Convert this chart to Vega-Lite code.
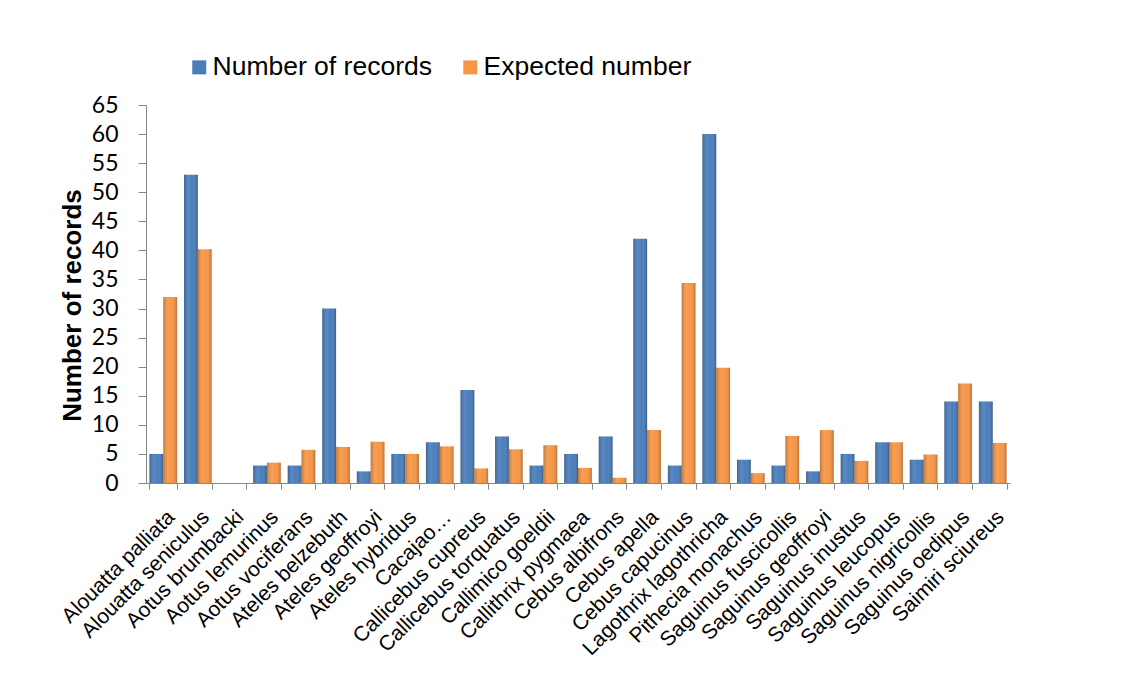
{
  "$schema": "https://vega.github.io/schema/vega-lite/v6.json",
  "width": 864,
  "height": 378,
  "autosize": {"type": "none"},
  "padding": {"left": 146, "top": 105, "right": 115, "bottom": 195},
  "background": "white",
  "config": {"view": {"stroke": null}, "font": "Liberation Sans"},
  "data": {
    "values": [
      {"species": "Alouatta palliata", "series": "Number of records", "value": 5},
      {"species": "Alouatta palliata", "series": "Expected number", "value": 32},
      {"species": "Alouatta seniculus", "series": "Number of records", "value": 53},
      {"species": "Alouatta seniculus", "series": "Expected number", "value": 40.2},
      {"species": "Aotus brumbacki", "series": "Number of records", "value": 0},
      {"species": "Aotus brumbacki", "series": "Expected number", "value": 0},
      {"species": "Aotus lemurinus", "series": "Number of records", "value": 3},
      {"species": "Aotus lemurinus", "series": "Expected number", "value": 3.5},
      {"species": "Aotus vociferans", "series": "Number of records", "value": 3},
      {"species": "Aotus vociferans", "series": "Expected number", "value": 5.7},
      {"species": "Ateles belzebuth", "series": "Number of records", "value": 30},
      {"species": "Ateles belzebuth", "series": "Expected number", "value": 6.2},
      {"species": "Ateles geoffroyi", "series": "Number of records", "value": 2},
      {"species": "Ateles geoffroyi", "series": "Expected number", "value": 7.1},
      {"species": "Ateles hybridus", "series": "Number of records", "value": 5},
      {"species": "Ateles hybridus", "series": "Expected number", "value": 5},
      {"species": "Cacajao…", "series": "Number of records", "value": 7},
      {"species": "Cacajao…", "series": "Expected number", "value": 6.3},
      {"species": "Callicebus cupreus", "series": "Number of records", "value": 16},
      {"species": "Callicebus cupreus", "series": "Expected number", "value": 2.5},
      {"species": "Callicebus torquatus", "series": "Number of records", "value": 8},
      {"species": "Callicebus torquatus", "series": "Expected number", "value": 5.8},
      {"species": "Callimico goeldii", "series": "Number of records", "value": 3},
      {"species": "Callimico goeldii", "series": "Expected number", "value": 6.5},
      {"species": "Callithrix pygmaea", "series": "Number of records", "value": 5},
      {"species": "Callithrix pygmaea", "series": "Expected number", "value": 2.6},
      {"species": "Cebus albifrons", "series": "Number of records", "value": 8},
      {"species": "Cebus albifrons", "series": "Expected number", "value": 0.9},
      {"species": "Cebus apella", "series": "Number of records", "value": 42},
      {"species": "Cebus apella", "series": "Expected number", "value": 9.1},
      {"species": "Cebus capucinus", "series": "Number of records", "value": 3},
      {"species": "Cebus capucinus", "series": "Expected number", "value": 34.4},
      {"species": "Lagothrix lagothricha", "series": "Number of records", "value": 60},
      {"species": "Lagothrix lagothricha", "series": "Expected number", "value": 19.8},
      {"species": "Pithecia monachus", "series": "Number of records", "value": 4},
      {"species": "Pithecia monachus", "series": "Expected number", "value": 1.7},
      {"species": "Saguinus fuscicollis", "series": "Number of records", "value": 3},
      {"species": "Saguinus fuscicollis", "series": "Expected number", "value": 8.1},
      {"species": "Saguinus geoffroyi", "series": "Number of records", "value": 2},
      {"species": "Saguinus geoffroyi", "series": "Expected number", "value": 9.1},
      {"species": "Saguinus inustus", "series": "Number of records", "value": 5},
      {"species": "Saguinus inustus", "series": "Expected number", "value": 3.8},
      {"species": "Saguinus leucopus", "series": "Number of records", "value": 7},
      {"species": "Saguinus leucopus", "series": "Expected number", "value": 7},
      {"species": "Saguinus nigricollis", "series": "Number of records", "value": 4},
      {"species": "Saguinus nigricollis", "series": "Expected number", "value": 4.9},
      {"species": "Saguinus oedipus", "series": "Number of records", "value": 14},
      {"species": "Saguinus oedipus", "series": "Expected number", "value": 17.1},
      {"species": "Saimiri sciureus", "series": "Number of records", "value": 14},
      {"species": "Saimiri sciureus", "series": "Expected number", "value": 6.9}
    ]
  },
  "encoding": {
    "x": {
      "field": "species",
      "type": "nominal",
      "sort": null,
      "scale": {"paddingInner": 0.2, "paddingOuter": 0.1},
      "axis": {
        "title": null,
        "labelAngle": -45,
        "labelFont": "Liberation Sans",
        "labelFontSize": 21,
        "labelColor": "black",
        "labelOverlap": false,
        "labelLimit": 0,
        "labelPadding": 17,
        "labelDx": -6,
        "labelDy": -2,
        "domainColor": "#868686",
        "tickColor": "#868686",
        "tickSize": 6,
        "tickBand": "extent"
      }
    },
    "xOffset": {
      "field": "series",
      "type": "nominal",
      "scale": {"domain": ["Number of records", "Expected number"]}
    },
    "y": {
      "field": "value",
      "type": "quantitative",
      "scale": {"domain": [0, 65], "nice": false},
      "axis": {
        "title": "Number of records",
        "titleFont": "Liberation Sans",
        "titleFontSize": 26,
        "titleFontWeight": "bold",
        "titleColor": "black",
        "titleX": -74,
        "titleY": 200,
        "titleAlign": "center",
        "titleBaseline": "middle",
        "values": [0, 5, 10, 15, 20, 25, 30, 35, 40, 45, 50, 55, 60, 65],
        "labelFont": "Lato",
        "labelFontSize": 23,
        "labelColor": "black",
        "labelPadding": 20,
        "domainColor": "#868686",
        "tickColor": "#868686",
        "tickSize": 8,
        "grid": false
      }
    }
  },
  "layer": [
    {
      "mark": {"type": "bar"},
      "encoding": {
        "color": {
          "field": "series",
          "type": "nominal",
          "scale": {
            "domain": ["Number of records", "Expected number"],
            "range": ["#4a7ebb", "#f79646"]
          },
          "legend": {
            "orient": "none",
            "legendX": 40,
            "legendY": -51,
            "direction": "horizontal",
            "title": null,
            "labelFont": "Liberation Sans",
            "labelFontSize": 26.5,
            "labelColor": "black",
            "labelLimit": 0,
            "labelOffset": 0,
            "symbolType": "square",
            "symbolSize": 196,
            "symbolStrokeWidth": 0,
            "columnPadding": 25
          }
        }
      }
    },
    {
      "mark": {
        "type": "bar",
        "fill": {
          "gradient": "linear",
          "x1": 0, "y1": 0, "x2": 1, "y2": 0,
          "stops": [
            {"offset": 0, "color": "rgba(0,0,0,0.22)"},
            {"offset": 0.35, "color": "rgba(255,255,255,0.08)"},
            {"offset": 0.6, "color": "rgba(255,255,255,0)"},
            {"offset": 1, "color": "rgba(0,0,0,0.25)"}
          ]
        }
      },
      "encoding": {}
    }
  ]
}
